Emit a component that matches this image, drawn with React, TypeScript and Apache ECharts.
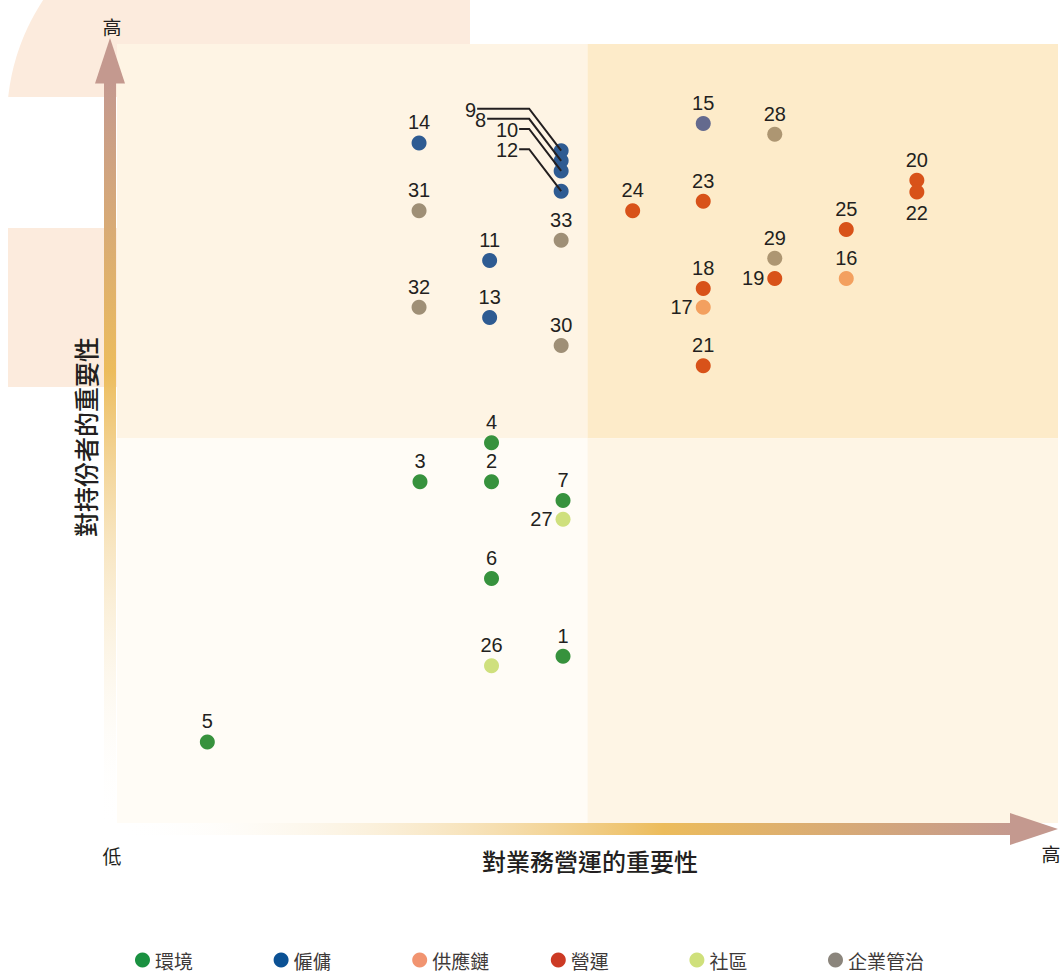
import React, { useEffect, useRef } from "react";
import * as echarts from "echarts";

// ---------- data ----------
const categories = ["環境", "僱傭", "供應鏈", "營運", "社區", "企業管治"];
const issueIds = [
  1, 2, 3, 4, 5, 6, 7, 8, 9, 10, 11, 12, 13, 14, 15, 16, 17, 18, 19, 20, 21,
  22, 23, 24, 25, 26, 27, 28, 29, 30, 31, 32, 33,
];
// index into categories
const issueCategory = [
  0, 0, 0, 0, 0, 0, 0, 1, 1, 1, 1, 1, 1, 1, 1, 2, 2, 3, 3, 3, 3, 3, 3, 3, 3,
  4, 4, 5, 5, 5, 5, 5, 5,
];
// 對業務營運的重要性 (x, 0-100)
const businessImportance = [
  47.4, 39.8, 32.2, 39.8, 9.6, 39.8, 47.4, 47.2, 47.2, 47.2, 39.6, 47.2, 39.6,
  32.1, 62.3, 77.5, 62.3, 62.3, 69.9, 85.0, 62.3, 85.0, 62.3, 54.8, 77.5, 39.8,
  47.4, 69.9, 69.9, 47.2, 32.1, 32.1, 47.2,
];
// 對持份者的重要性 (y, 0-100)
const stakeholderImportance = [
  21.4, 43.8, 43.8, 48.8, 10.4, 31.4, 41.4, 85.0, 86.3, 83.7, 72.2, 81.1, 64.9,
  87.3, 89.8, 69.9, 66.2, 68.6, 69.9, 82.5, 58.7, 81.0, 79.8, 78.6, 76.2, 20.2,
  39.0, 88.4, 72.5, 61.3, 78.6, 66.2, 74.8,
];
// quadrant split values
const xSplit = 50;
const ySplit = 49.4;

// ---------- styles ----------
const legendColors = ["#1a9141", "#0b5194", "#f19470", "#cc3a24", "#cfe07b", "#8b857c"];
const dotColors = ["#37923d", "#2e5b92", "#f3a05f", "#d85219", "#cfe07d", "#9f8f76"];
const dotColorOverride: Record<number, string> = { 15: "#646a8e", 28: "#ad9672", 29: "#ad9672" };
const labelPositionOverride: Record<number, string> = { 17: "left", 19: "left", 27: "left", 22: "bottom" };
// leader-line callouts: horizontal end offset (px) from the dot
const calloutEndDx: Record<number, number> = { 8: -74, 9: -84, 10: -42, 12: -42 };

const TEXT = "#231f20";
const CJK = '"Noto Sans CJK TC", "Noto Sans CJK SC", sans-serif';
const NUM = '"Liberation Sans", Arial, sans-serif';
const PINK = "#fcebdd";
const ARROW_END = "#c4998f";
const GOLD = "#ecbc5c";

export default function App() {
  const ref = useRef<HTMLDivElement>(null);

  useEffect(() => {
    document.body.style.margin = "0";
    const chart = echarts.init(ref.current!, null, { renderer: "svg" });

    const scatterSeries = categories.map((cat, ci) => {
      const data: any[] = [];
      issueIds.forEach((id, i) => {
        if (issueCategory[i] !== ci) return;
        const item: any = {
          value: [businessImportance[i], stakeholderImportance[i], id],
          itemStyle: { color: dotColorOverride[id] || dotColors[ci], opacity: 1 },
        };
        if (calloutEndDx[id] !== undefined) {
          item.label = { show: false };
        } else if (labelPositionOverride[id]) {
          item.label = { position: labelPositionOverride[id] };
        }
        data.push(item);
      });
      return {
        name: cat,
        type: "scatter",
        z: 3,
        symbol: "circle",
        symbolSize: 15,
        itemStyle: { color: legendColors[ci], opacity: 1 },
        label: {
          show: true,
          position: "top",
          distance: 3,
          formatter: (p: any) => String(p.value[2]),
          color: TEXT,
          fontSize: 20,
          fontFamily: NUM,
        },
        emphasis: { disabled: true },
        data,
      };
    });

    const calloutData = issueIds
      .map((id, i) => ({ id, i }))
      .filter((d) => calloutEndDx[d.id] !== undefined)
      .map((d) => [businessImportance[d.i], stakeholderImportance[d.i], d.id]);

    // decorative arc (top-left pink shape)
    const cx = 224, cy = 120, r = 217;
    const a0 = Math.atan2(97 - cy, 8 - cx);
    const a1 = Math.atan2(0 - cy, 43 - cx);
    const arcPts: number[][] = [];
    const steps = 30;
    const a0n = a0 < 0 ? a0 + 2 * Math.PI : a0;
    const a1n = a1 < 0 ? a1 + 2 * Math.PI : a1;
    for (let k = 0; k <= steps; k++) {
      const a = a0n + ((a1n - a0n) * k) / steps;
      arcPts.push([cx + r * Math.cos(a), cy + r * Math.sin(a)]);
    }
    arcPts.push([470, 0], [470, 97]);

    const textEl = (text: string, x: number, y: number, size: number, extra: any = {}) => ({
      type: "text",
      x,
      y,
      z: 10,
      silent: true,
      ...extra,
      style: {
        text,
        fill: TEXT,
        fontSize: size,
        fontFamily: CJK,
        align: "center",
        verticalAlign: "middle",
        textAlign: "center",
        textVerticalAlign: "middle",
        ...(extra.style || {}),
      },
    });

    const legends = categories.map((c, i) => ({
      data: [c],
      left: 135 + i * 138.6,
      top: 950,
      padding: 0,
      itemWidth: 15,
      itemHeight: 15,
      itemGap: 0,
      icon: "circle",
      selectedMode: false,
      textStyle: { fontSize: 19, lineHeight: 20, color: "#3e3a39", fontFamily: CJK },
    }));

    chart.setOption({
      animation: false,
      backgroundColor: "#ffffff",
      grid: { left: 117, right: 3, top: 44, bottom: 149 },
      xAxis: { type: "value", min: 0, max: 100, show: false },
      yAxis: { type: "value", min: 0, max: 100, show: false },
      legend: legends,
      graphic: [
        { type: "polygon", z: 0, silent: true, shape: { points: arcPts }, style: { fill: PINK } },
        { type: "rect", z: 0, silent: true, shape: { x: 8, y: 228, width: 109, height: 159 }, style: { fill: PINK } },
        {
          type: "rect",
          z: 10,
          silent: true,
          shape: { x: 104, y: 83, width: 12, height: 745 },
          style: {
            fill: {
              type: "linear", x: 0, y: 0, x2: 0, y2: 1,
              colorStops: [
                { offset: 0, color: ARROW_END },
                { offset: 0.385, color: GOLD },
                { offset: 1, color: "rgba(255,255,255,0)" },
              ],
            },
          },
        },
        { type: "polygon", z: 10, silent: true, shape: { points: [[95, 83.5], [110, 38], [125, 83.5]] }, style: { fill: ARROW_END } },
        {
          type: "rect",
          z: 10,
          silent: true,
          shape: { x: 118, y: 823, width: 893, height: 12 },
          style: {
            fill: {
              type: "linear", x: 0, y: 0, x2: 1, y2: 0,
              colorStops: [
                { offset: 0, color: "rgba(255,255,255,0)" },
                { offset: 0.61, color: GOLD },
                { offset: 1, color: ARROW_END },
              ],
            },
          },
        },
        { type: "polygon", z: 10, silent: true, shape: { points: [[1010, 813], [1058, 829], [1010, 845]] }, style: { fill: ARROW_END } },
        textEl("高", 112, 26, 19),
        textEl("低", 112, 855, 19),
        textEl("高", 1051, 853, 19),
        textEl("對業務營運的重要性", 590, 860, 24, { style: { fontWeight: 500 } }),
        textEl("對持份者的重要性", 85, 437, 25, { rotation: Math.PI / 2, style: { fontWeight: 500 } }),
      ],
      series: [
        {
          type: "scatter",
          z: 1,
          silent: true,
          data: [],
          markArea: {
            silent: true,
            label: { show: false },
            data: [
              [{ xAxis: 0, yAxis: ySplit, itemStyle: { color: "#fef4e4", opacity: 1 } }, { xAxis: xSplit, yAxis: 100 }],
              [{ xAxis: xSplit, yAxis: ySplit, itemStyle: { color: "#fdebc9", opacity: 1 } }, { xAxis: 100, yAxis: 100 }],
              [{ xAxis: 0, yAxis: 0, itemStyle: { color: "#fffcf6", opacity: 1 } }, { xAxis: xSplit, yAxis: ySplit }],
              [{ xAxis: xSplit, yAxis: 0, itemStyle: { color: "#fef5e5", opacity: 1 } }, { xAxis: 100, yAxis: ySplit }],
            ],
          },
        },
        ...scatterSeries,
        {
          type: "custom",
          z: 5,
          silent: true,
          data: calloutData,
          renderItem: (params: any, api: any) => {
            const x = api.value(0);
            const y = api.value(1);
            const id = api.value(2);
            const p = api.coord([x, y]);
            const dx = calloutEndDx[id];
            const ey = p[1] - 42;
            return {
              type: "group",
              children: [
                {
                  type: "polyline",
                  shape: { points: [[p[0] + dx, ey], [p[0] - 32, ey], [p[0], p[1]]] },
                  style: { stroke: TEXT, lineWidth: 2, fill: "none" },
                },
                {
                  type: "text",
                  style: {
                    text: String(id),
                    x: p[0] + dx - 1,
                    y: ey + 1,
                    align: "right",
                    verticalAlign: "middle",
                    fill: TEXT,
                    fontSize: 20,
                    fontFamily: NUM,
                  },
                },
              ],
            };
          },
        },
      ],
    });

    return () => chart.dispose();
  }, []);

  return (
    <div
      ref={ref}
      style={{ position: "absolute", left: 0, top: 0, width: 1061, height: 972 }}
    />
  );
}
